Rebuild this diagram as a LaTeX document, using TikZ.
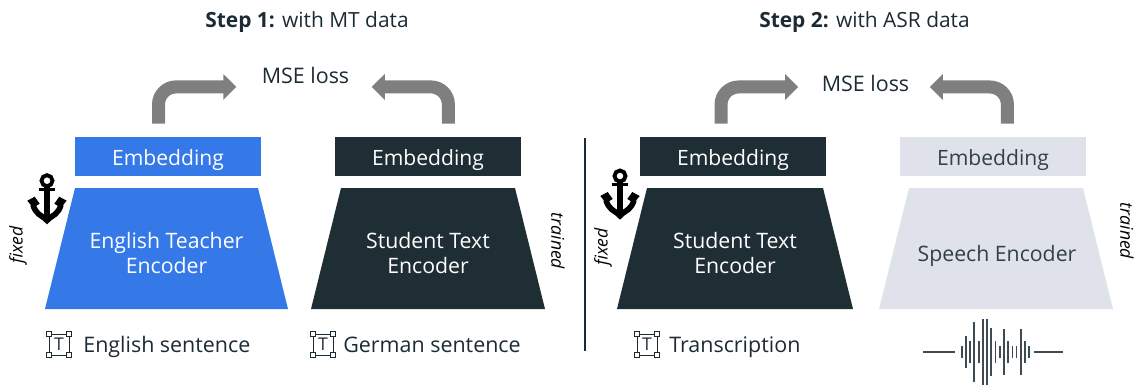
\documentclass[tikz,border=0pt]{standalone}
\usepackage{fontspec}
\setmainfont{Open Sans}
\usetikzlibrary{arrows.meta}

\definecolor{metablue}{HTML}{3578E8}
\definecolor{metadark}{HTML}{1F2D35}
\definecolor{metalight}{HTML}{DFE2EB}
\definecolor{metagray}{HTML}{7F7F7F}
\definecolor{metatext}{HTML}{1C2B33}

\tikzset{
  txt/.style={inner sep=0pt, text=metatext, text height=8pt, text depth=0pt, font=\fontsize{12.2}{14}\selectfont},
  titletxt/.style={txt, font=\fontsize{11.9}{14}\selectfont},
  sidetxt/.style={inner sep=0pt, text=black, font=\fontsize{10}{12}\selectfont\itshape},
  embbox/.style={inner sep=0pt, minimum width=105.5pt, minimum height=22.1pt, text height=10pt, text depth=0pt,
    font=\fontsize{12}{14}\selectfont},
  enctxt/.style={inner sep=0pt, align=center, font=\fontsize{12.1}{13.8}\selectfont},
  lossarrow/.style={draw=metagray, line width=7.4pt, rounded corners=10pt,
    -{Triangle[length=7.4pt,width=14.2pt]}},
  anchoricon/.pic={
    \draw[black, line width=2.2pt] (0,0) circle (0.055);
    \draw[black, line width=3pt] (0,-0.05) -- (0,-0.40);
    \draw[black, line width=1.6pt] (-0.08,-0.085) -- (0.08,-0.085);
    \draw[black, line width=3.2pt] (-0.14,-0.24) .. controls (-0.12,-0.32) and (-0.06,-0.36) .. (0,-0.38)
      .. controls (0.06,-0.36) and (0.12,-0.32) .. (0.14,-0.24);
    \fill[black] (-0.197,-0.20) -- (-0.123,-0.16) -- (-0.073,-0.23) -- (-0.14,-0.27) -- cycle;
    \fill[black] (0.197,-0.20) -- (0.123,-0.16) -- (0.073,-0.23) -- (0.14,-0.27) -- cycle;
    \fill[black] (-0.07,-0.37) -- (0,-0.437) -- (0.07,-0.37) -- cycle;
  },
  texticon/.pic={
    \draw[metatext, line width=0.5pt] (-0.1,-0.105) rectangle (0.1,0.105);
    \foreach \cx in {-0.1,0.1} \foreach \cy in {-0.105,0.105}
      \draw[metatext, fill=white, line width=0.6pt] (\cx-0.025,\cy-0.025) rectangle (\cx+0.025,\cy+0.025);
    \node[inner sep=0pt, text=metatext, font=\fontsize{10}{12}\selectfont] (-glyph) at (0,0) {T};
  }
}

\begin{document}
\begin{tikzpicture}[x=2cm,y=2cm]
\useasboundingbox (0,0) rectangle (11.37,3.85);

%titles
\node[titletxt] (stepA) at (3.07,3.643) {\textbf{Step 1:} with MT data};
\node[titletxt] (stepB) at (8.645,3.643) {\textbf{Step 2:} with ASR data};
%loss
\node[txt] (mseA) at (3.055,3.09) {MSE loss};
\node[txt] (mseB) at (8.655,3.01) {MSE loss};

%embeddings
\node[embbox, fill=metablue, text=white] (embA) at (1.68,2.285) {Embedding};
\node[embbox, fill=metadark, text=white] (embB) at (4.28,2.285) {Embedding};
\node[embbox, fill=metadark, text=white] (embC) at (7.33,2.285) {Embedding};
\node[embbox, fill=metalight, text=metatext!90] (embD) at (9.93,2.285) {Embedding};

%encoders
\fill[metablue] (0.45,0.76) -- (0.75,1.97) -- (2.58,1.97) -- (2.88,0.76) -- cycle;
\fill[metadark] (3.11,0.76) -- (3.41,1.97) -- (5.15,1.97) -- (5.45,0.76) -- cycle;
\fill[metadark] (6.17,0.76) -- (6.47,1.97) -- (8.23,1.97) -- (8.53,0.76) -- cycle;
\fill[metalight] (8.79,0.76) -- (9.09,1.97) -- (10.83,1.97) -- (11.13,0.76) -- cycle;
\node[enctxt, text=white] (encA) at (1.665,1.32) {English Teacher\\Encoder};
\node[enctxt, text=white] (encB) at (4.28,1.32) {Student Text\\Encoder};
\node[enctxt, text=white] (encC) at (7.35,1.32) {Student Text\\Encoder};
\node[enctxt, text=metatext!90] (encD) at (9.97,1.295) {Speech Encoder};

%arrows
\draw[lossarrow] ([xshift=-5.4pt,yshift=7.4pt]embA.north) |- ([xshift=-39.4pt,yshift=-6.2pt]mseA.center);
\draw[lossarrow] ([xshift=11.6pt,yshift=7.4pt]embB.north) |- ([xshift=37.7pt,yshift=-6.2pt]mseA.center);
\draw[lossarrow] ([xshift=-6.8pt,yshift=7.4pt]embC.north) |- ([xshift=-38.3pt,yshift=-1.7pt]mseB.center);
\draw[lossarrow] ([xshift=8.2pt,yshift=7.4pt]embD.north) |- ([xshift=36.6pt,yshift=-1.7pt]mseB.center);

%divider
\coordinate (divtop) at (5.85,2.47);
\coordinate (divbot) at (5.85,0.34);
\draw[metatext, line width=0.6pt] (divtop) -- (divbot);

%side labels
\node[sidetxt, rotate=90] (fixedA) at (0.18,1.40) {fixed};
\node[sidetxt, rotate=-90] (trainedB) at (5.58,1.44) {trained};
\node[sidetxt, rotate=90] (fixedC) at (6.03,1.38) {fixed};
\node[sidetxt, rotate=-90] (trainedD) at (11.27,1.54) {trained};

%anchors
\pic at (0.47,2.043) {anchoricon};
\pic at (6.20,2.09) {anchoricon};

%inputs
\pic (iconA) at (0.59,0.405) {texticon};
\pic (iconB) at (3.23,0.405) {texticon};
\pic (iconC) at (6.47,0.405) {texticon};
\node[txt, anchor=west] (inA) at (0.83,0.40) {English sentence};
\node[txt, anchor=west] (inB) at (3.43,0.40) {German sentence};
\node[txt, anchor=west] (inC) at (6.69,0.40) {Transcription};

%waveform
\draw[metatext!85, line width=1.1pt] (9.23,0.33) -- (9.55,0.33);
\draw[metatext!85, line width=1.1pt] (10.34,0.33) -- (10.63,0.33);
\foreach \wx/\wh in {9.617/0.06,9.657/0.16,9.70/0.11,9.74/0.30,9.787/0.11,9.827/0.33,9.87/0.33,9.91/0.24,9.953/0.11,9.997/0.06,10.037/0.23,10.08/0.11,10.123/0.06,10.163/0.06,10.207/0.23,10.247/0.11,10.29/0.06}
  \draw[metatext!85, line width=0.9pt] (\wx,0.33-\wh) -- (\wx,0.33+\wh);
\end{tikzpicture}
\end{document}
